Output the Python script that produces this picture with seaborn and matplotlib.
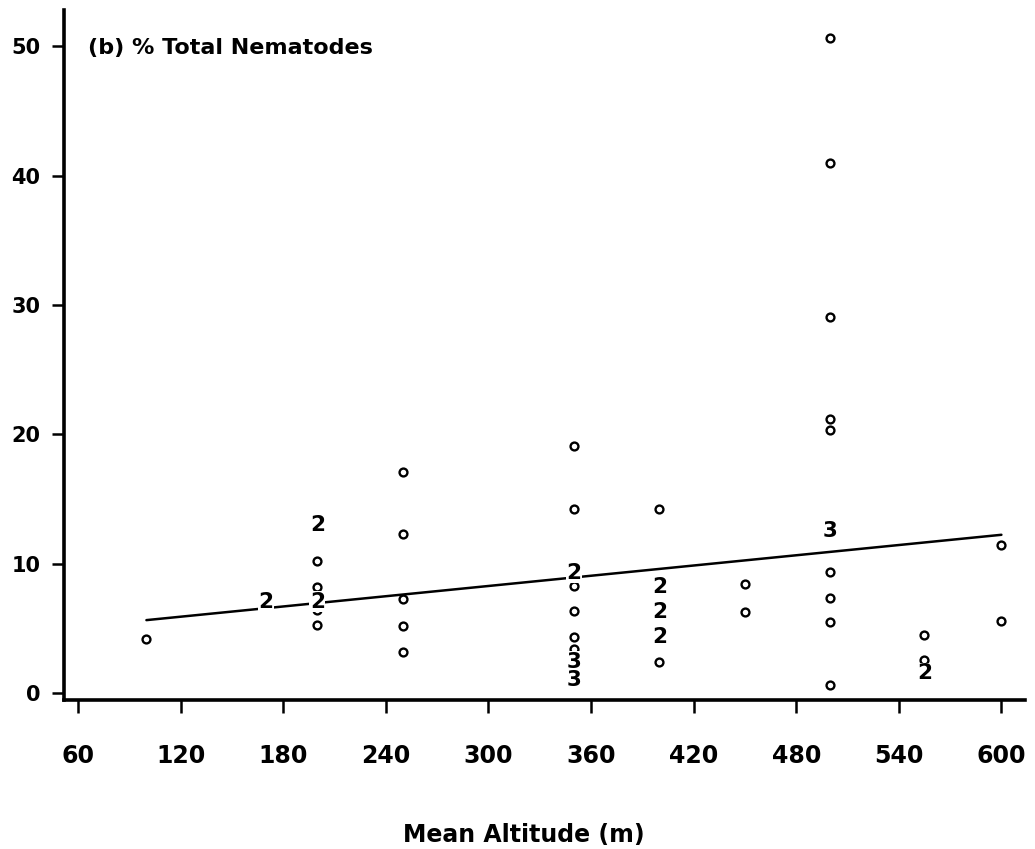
import numpy as np
import pandas as pd
import matplotlib
matplotlib.use("Agg")
import matplotlib.pyplot as plt
import seaborn as sns

# Sample sites: mean altitude (m), % of total nematodes, and how many
# samples share that exact position (plotted as a digit when > 1).
altitude = [100, 170,
            200, 200, 200, 200, 200, 200,
            250, 250, 250, 250, 250,
            350, 350, 350, 350, 350, 350, 350, 350, 350,
            400, 400, 400, 400, 400,
            450, 450,
            500, 500, 500, 500, 500, 500, 500, 500, 500, 500,
            555, 555, 555,
            600, 600]
pct_total = [4.15, 7.05,
             13.0, 10.2, 8.2, 7.05, 6.4, 5.25,
             17.1, 12.3, 7.24, 5.2, 3.14,
             19.1, 14.2, 9.3, 8.27, 6.36, 4.3, 3.38, 2.42, 1.0,
             14.2, 8.2, 6.24, 4.35, 2.42,
             8.42, 6.29,
             50.6, 41.0, 29.1, 21.2, 20.3, 12.5, 9.37, 7.32, 5.48, 0.62,
             4.48, 2.53, 1.51,
             11.42, 5.55]
n_samples = [1, 2,
             2, 1, 1, 2, 1, 1,
             1, 1, 1, 1, 1,
             1, 1, 2, 1, 1, 1, 1, 3, 3,
             1, 2, 2, 2, 1,
             1, 1,
             1, 1, 1, 1, 1, 3, 1, 1, 1, 1,
             1, 1, 2,
             1, 1]

x_ticks = [60, 120, 180, 240, 300, 360, 420, 480, 540, 600]
y_ticks = [0, 10, 20, 30, 40, 50]

df = pd.DataFrame({"alt": altitude, "pct": pct_total, "n": n_samples})
full = df.loc[df.index.repeat(df["n"])].reset_index(drop=True)

sns.set_style("ticks")
plt.rcParams["font.family"] = ["DejaVu Sans"]
plt.rcParams["font.weight"] = "bold"

fig = plt.figure(figsize=(10.35, 8.49), dpi=100)
ax = fig.add_axes([64 / 1035, 149 / 849, (1025 - 64) / 1035, (839 - 149) / 849])

# least-squares line through every sample
sns.regplot(data=full, x="alt", y="pct", ax=ax, scatter=False, ci=None,
            truncate=True, line_kws={"color": "black", "lw": 1.8})

single = df[df["n"] == 1]
sns.scatterplot(data=single, x="alt", y="pct", ax=ax, s=32, marker="o",
                facecolor="white", edgecolor="black", linewidth=1.7,
                zorder=3)

for _, r in df[df["n"] > 1].iterrows():
    ax.text(r["alt"], r["pct"], str(int(r["n"])), ha="center", va="center",
            fontsize=15.5, fontweight="bold", color="black", zorder=4,
            bbox=dict(boxstyle="square,pad=0.02", fc="white", ec="none"))

ax.set_xlim(51.8, 613.8)
ax.set_ylim(-0.55, 52.8)
ax.set_xticks(x_ticks)
ax.set_yticks(y_ticks)
ax.set_xticklabels([str(v) for v in x_ticks], fontsize=17, fontweight="bold")
ax.set_yticklabels([str(v) for v in y_ticks], fontsize=15, fontweight="bold")
ax.tick_params(axis="x", direction="out", length=9, width=1.8, pad=23,
               color="black", labelcolor="black")
ax.tick_params(axis="y", direction="out", length=9, width=1.8, pad=8,
               color="black", labelcolor="black")

sns.despine(ax=ax)
for side in ("left", "bottom"):
    ax.spines[side].set_linewidth(2.6)
    ax.spines[side].set_color("black")

ax.set_xlabel("Mean Altitude (m)", fontsize=17, fontweight="bold",
              color="black", va="center")
ax.set_ylabel("")
ax.xaxis.set_label_coords((524 - 64) / 961, -(835 - 700) / 690)

ax.text((88 - 64) / 961, (700 - 48) / 690, "(b) % Total Nematodes",
        transform=ax.transAxes, ha="left", va="center", fontsize=16,
        fontweight="bold", color="black")

fig.savefig("out.png", dpi=100, facecolor="white")
